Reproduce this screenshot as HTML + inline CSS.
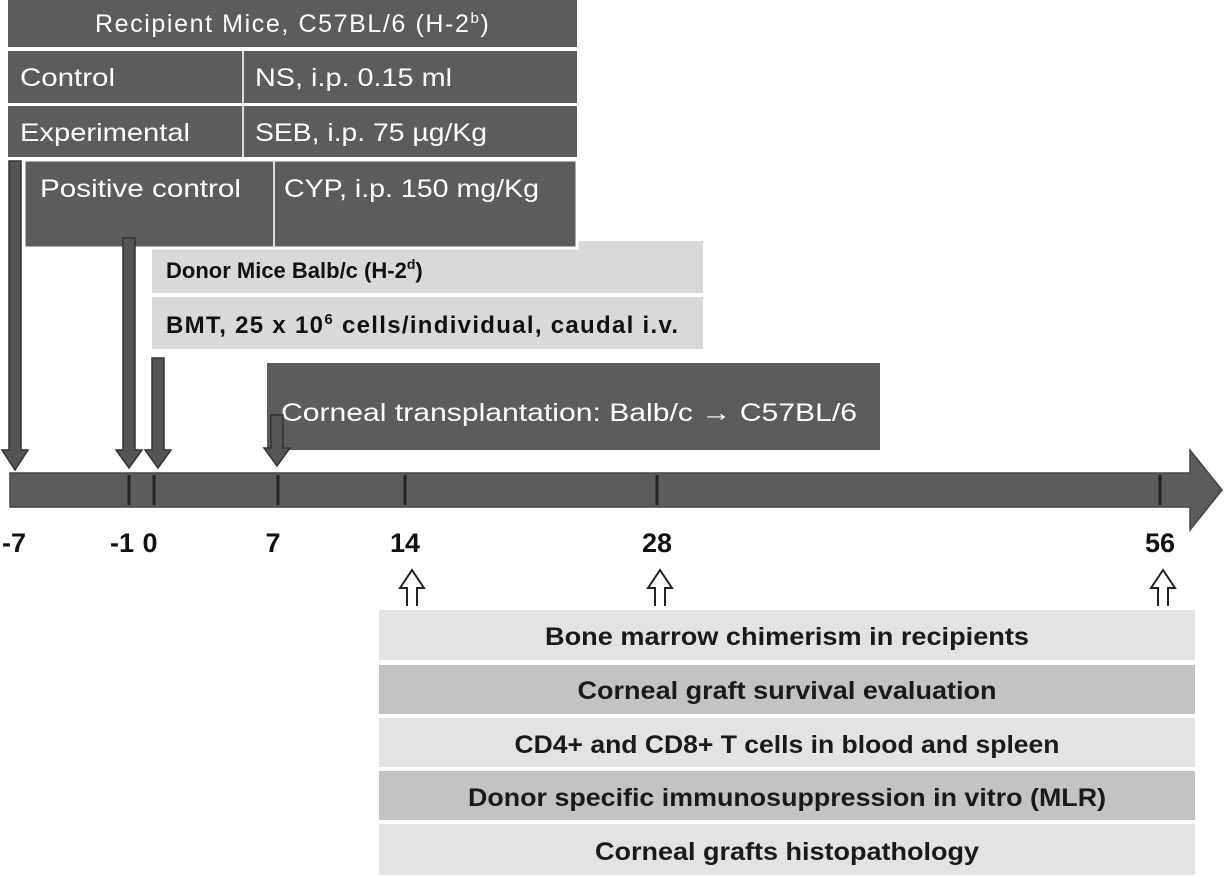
<!DOCTYPE html>
<html><head><meta charset="utf-8"><style>
html,body{margin:0;padding:0;background:#fff;}
svg{display:block;}
.w{fill:#fff;font-family:"Liberation Sans",sans-serif;font-size:25px;}
.b{fill:#111;font-family:"Liberation Sans",sans-serif;font-size:22px;font-weight:bold;}
.n{fill:#1a1a1a;font-family:"Liberation Sans",sans-serif;font-size:25px;font-weight:bold;}
.t{fill:#111;font-family:"Liberation Sans",sans-serif;font-size:27px;font-weight:bold;}
</style></head><body>
<svg width="1227" height="877" viewBox="0 0 1227 877">
<rect x="152" y="241" width="551" height="52" fill="#d9d9d9"/>
<text class="b" x="166" y="278">Donor Mice Balb/c (H-2<tspan font-size="14" dy="-9">d</tspan><tspan dy="9">)</tspan></text>
<g>
<rect x="8" y="0" width="569" height="47" fill="#5c5c5c"/>
<text class="w" x="95" y="32" letter-spacing="1.6">Recipient Mice, C57BL/6 (H-2<tspan font-size="15" dy="-9">b</tspan><tspan dy="9">)</tspan></text>
<rect x="8" y="51" width="569" height="52" fill="#5c5c5c"/>
<line x1="243" y1="51" x2="243" y2="103" stroke="#ddd" stroke-width="2"/>
<text class="w" x="20" y="86" textLength="95" lengthAdjust="spacingAndGlyphs">Control</text>
<text class="w" x="255" y="86" textLength="197" lengthAdjust="spacingAndGlyphs">NS, i.p. 0.15 ml</text>
<rect x="8" y="106" width="569" height="51" fill="#5c5c5c"/>
<line x1="243" y1="106" x2="243" y2="157" stroke="#ddd" stroke-width="2"/>
<text class="w" x="20" y="141" textLength="170" lengthAdjust="spacingAndGlyphs">Experimental</text>
<text class="w" x="255" y="141" textLength="232" lengthAdjust="spacingAndGlyphs">SEB, i.p. 75 µg/Kg</text>
<rect x="24" y="160" width="553" height="88" fill="#5c5c5c" stroke="#fff" stroke-width="3"/>
<line x1="274" y1="160" x2="274" y2="248" stroke="#ddd" stroke-width="2"/>
<text class="w" x="40" y="197" textLength="201" lengthAdjust="spacingAndGlyphs">Positive control</text>
<text class="w" x="284" y="197" textLength="255" lengthAdjust="spacingAndGlyphs">CYP, i.p. 150 mg/Kg</text>
</g>
<rect x="152" y="297" width="551" height="52" fill="#d9d9d9"/>
<text class="b" x="166" y="333" style="font-size:24px" letter-spacing="1.3">BMT, 25 x 10<tspan style="font-size:15px" dy="-9">6</tspan><tspan dy="9"> cells/individual, caudal i.v.</tspan></text>
<rect x="267" y="363" width="613" height="87" fill="#5c5c5c"/>
<text class="w" x="281" y="421" textLength="576" lengthAdjust="spacingAndGlyphs">Corneal transplantation:  Balb/c → C57BL/6</text>
<g fill="#555" stroke="#333" stroke-width="1.5">
<path d="M9,161 H21 V450 H28 L15,470 L2,450 H9 Z"/>
<path d="M123,238 H135 V450 H142 L129,468 L116,450 H123 Z"/>
<path d="M152,358 H164 V450 H171 L158,468 L145,450 H152 Z"/>
<path d="M271,415 H283 V448 H290 L277,466 L264,448 H271 Z"/>
</g>
<path d="M10,473 H1190 V450 L1222,490 L1190,530 V507 H10 Z" fill="#5c5c5c" stroke="#444" stroke-width="1.5"/>
<g stroke="#222" stroke-width="3">
<line x1="129" y1="475" x2="129" y2="505"/><line x1="154" y1="475" x2="154" y2="505"/>
<line x1="278" y1="475" x2="278" y2="505"/><line x1="405" y1="475" x2="405" y2="505"/>
<line x1="657" y1="475" x2="657" y2="505"/><line x1="1160" y1="475" x2="1160" y2="505"/>
</g>
<g class="t" text-anchor="middle">
<text x="14" y="552">-7</text>
<text x="122" y="552">-1</text>
<text x="150" y="552">0</text>
<text x="273" y="552">7</text>
<text x="405" y="552">14</text>
<text x="657" y="552">28</text>
<text x="1160" y="552">56</text>
</g>
<g fill="#fff" stroke="#222" stroke-width="2">
<path d="M407,606 V588 H400 L412,570 L424,588 H417 V606"/>
<path d="M655,606 V588 H648 L660,570 L672,588 H665 V606"/>
<path d="M1158,606 V588 H1151 L1163,570 L1175,588 H1168 V606"/>
</g>
<g>
<rect x="379" y="610" width="816" height="50" fill="#e3e3e3"/>
<text class="n" x="787" y="645" text-anchor="middle" textLength="484" lengthAdjust="spacingAndGlyphs">Bone marrow chimerism in recipients</text>
<rect x="379" y="665" width="816" height="49" fill="#c3c3c3"/>
<text class="n" x="787" y="699" text-anchor="middle" textLength="419" lengthAdjust="spacingAndGlyphs">Corneal graft survival evaluation</text>
<rect x="379" y="718" width="816" height="49" fill="#e3e3e3"/>
<text class="n" x="787" y="753" text-anchor="middle" textLength="545" lengthAdjust="spacingAndGlyphs">CD4+ and CD8+ T cells in blood and spleen</text>
<rect x="379" y="771" width="816" height="49" fill="#c3c3c3"/>
<text class="n" x="787" y="806" text-anchor="middle" textLength="638" lengthAdjust="spacingAndGlyphs">Donor specific immunosuppression in vitro (MLR)</text>
<rect x="379" y="824" width="816" height="51" fill="#e3e3e3"/>
<text class="n" x="787" y="860" text-anchor="middle" textLength="384" lengthAdjust="spacingAndGlyphs">Corneal grafts histopathology</text>
</g>
</svg>
</body></html>
